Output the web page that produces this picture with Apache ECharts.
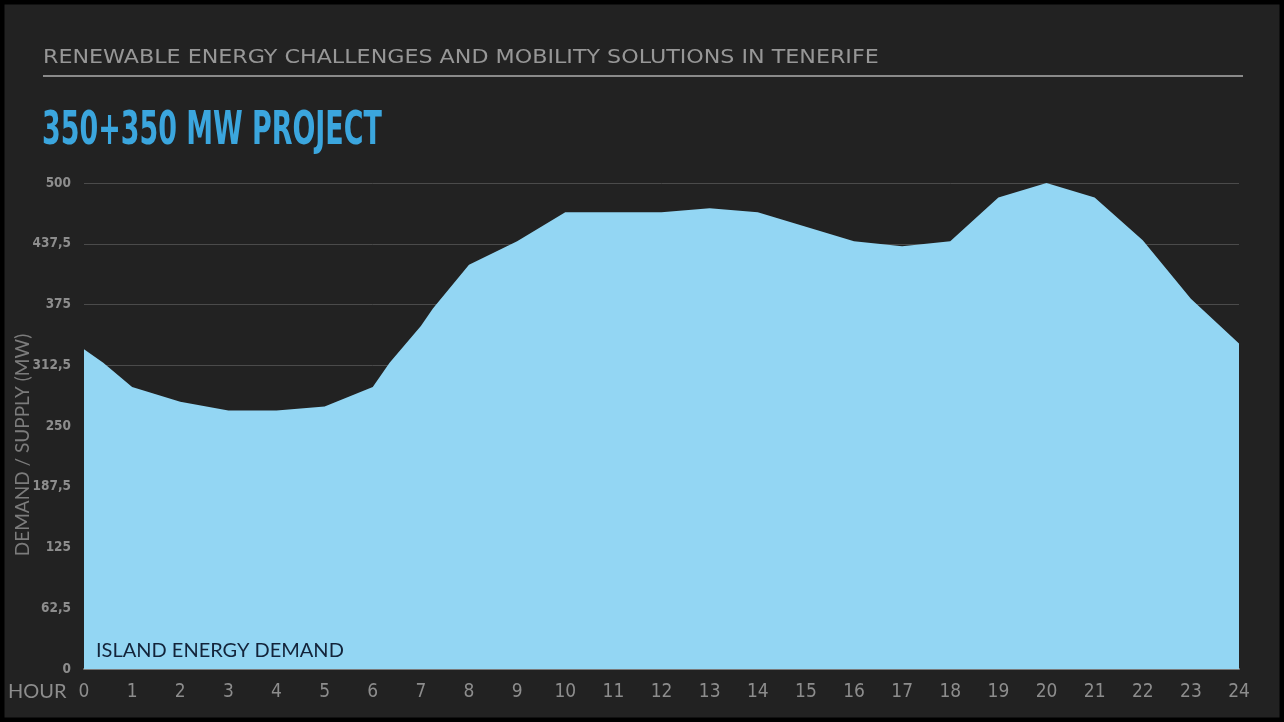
<!DOCTYPE html>
<html>
<head>
<meta charset="utf-8">
<script src="https://cdn.jsdelivr.net/npm/echarts@6/dist/echarts.min.js"></script>
<style>
  html, body { margin: 0; padding: 0; background: #222222; }
  #chart { width: 1284px; height: 722px; }
</style>
</head>
<body>
<div id="chart"></div>
<script>
// ---- data ----
const hourTicks = [0, 1, 2, 3, 4, 5, 6, 7, 8, 9, 10, 11, 12, 13, 14, 15, 16, 17, 18, 19, 20, 21, 22, 23, 24];
const demandHours = [0, 0.4, 1, 2, 3, 4, 5, 6, 6.35, 7, 7.25, 8, 9, 10, 11, 12, 13, 14, 15, 16, 17, 18, 19, 20, 21, 22, 23, 24];
const demandMW   = [329, 315, 290, 275, 266, 266, 270, 290, 315, 353, 371, 416, 440, 470, 470, 470, 474, 470, 455, 440, 435, 440, 485, 500, 485, 441, 381, 335];
const yTicks = [0, 62.5, 125, 187.5, 250, 312.5, 375, 437.5, 500];

const headerText = 'RENEWABLE ENERGY CHALLENGES AND MOBILITY SOLUTIONS IN TENERIFE';
const titleText = '350+350 MW PROJECT';
const seriesName = 'ISLAND ENERGY DEMAND';
const yAxisTitle = 'DEMAND / SUPPLY (MW)';
const xAxisTitle = 'HOUR';

const narrow = '"DejaVu Sans Condensed","Liberation Sans Narrow","DejaVu Sans",sans-serif';
const grey = '#8d8d8d';

const chart = echarts.init(document.getElementById('chart'), null, { renderer: 'canvas' });
chart.setOption({
  backgroundColor: '#222222',
  animation: false,
  grid: { left: 84, right: 45, top: 183, bottom: 53, containLabel: false },
  xAxis: {
    type: 'value',
    min: 0, max: 24, interval: 1,
    axisLine: { show: true, lineStyle: { color: '#7a7a7a', width: 2 } },
    axisTick: { show: false },
    splitLine: { show: false },
    axisLabel: {
      color: grey, fontFamily: narrow, fontStyle: 'condensed', fontSize: 19, margin: 14,
      formatter: v => hourTicks.includes(v) ? String(v) : ''
    }
  },
  yAxis: {
    type: 'value',
    min: 0, max: 500, interval: 62.5,
    axisLine: { show: false },
    axisTick: { show: false },
    splitLine: { show: true, lineStyle: { color: '#4b4b4b', width: 1 } },
    axisLabel: {
      color: grey, fontFamily: narrow, fontStyle: 'condensed', fontSize: 13.5, fontWeight: 'bold', margin: 13,
      formatter: v => yTicks.includes(v) ? String(v).replace('.', ',') : ''
    }
  },
  series: [{
    name: seriesName,
    type: 'line',
    data: demandHours.map((h, i) => [h, demandMW[i]]),
    showSymbol: false,
    smooth: false,
    lineStyle: { width: 0, color: '#93d6f3' },
    areaStyle: { color: '#93d6f3', opacity: 1 },
    z: 1
  }],
  graphic: [
    { type: 'rect', silent: true, z: 100,
      shape: { x: 2, y: 2, width: 1280, height: 718 },
      style: { fill: 'none', stroke: '#000000', lineWidth: 5 } },
    { type: 'text', x: 43, y: 48, z: 10, scaleX: 1.11,
      style: { text: headerText, fill: '#979797', font: '20px "DejaVu Sans", sans-serif' } },
    { type: 'line', z: 10,
      shape: { x1: 43, y1: 76, x2: 1243, y2: 76 },
      style: { stroke: '#8a8a8a', lineWidth: 2 } },
    { type: 'text', x: 42, y: 109, z: 10, scaleX: 0.65,
      style: { text: titleText, fill: '#3ba6de', font: 'bold 46px "Liberation Sans Narrow","DejaVu Sans Condensed",sans-serif' } },
    { type: 'text', x: 96, y: 651, z: 10,
      style: { text: seriesName, fill: '#13243a', font: '20px Lato, "Open Sans", sans-serif', verticalAlign: 'middle' } },
    { type: 'text', x: 8, y: 692, z: 10,
      style: { text: xAxisTitle, fill: grey, font: '20px Lato, "Open Sans", sans-serif', verticalAlign: 'middle' } },
    { type: 'text', x: 23, y: 445, z: 10, rotation: Math.PI / 2,
      style: { text: yAxisTitle, fill: '#7c7c7c', font: '19px Lato, "Open Sans", sans-serif', align: 'center', verticalAlign: 'middle' } }
  ]
});
</script>
</body>
</html>
